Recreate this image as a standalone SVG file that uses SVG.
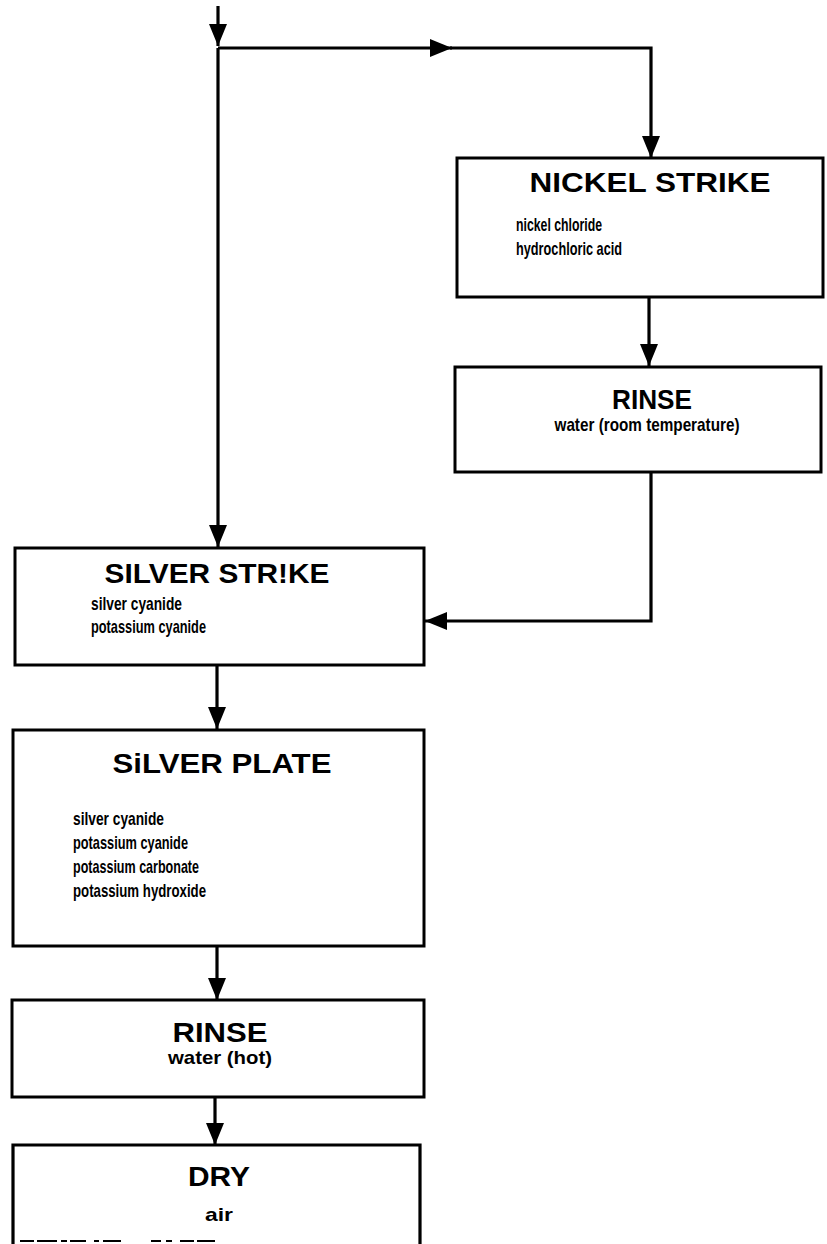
<svg xmlns="http://www.w3.org/2000/svg" width="827" height="1244" viewBox="0 0 827 1244">
<style>
.box{fill:#fff;stroke:#000;stroke-width:3}
.ln{fill:none;stroke:#000;stroke-width:3.2;stroke-linejoin:miter}
.t{font-family:"Liberation Sans",Arial,sans-serif;font-weight:bold;fill:#000}
.h{font-size:28px;text-anchor:middle}
.i{font-size:19px}
.c{font-size:19px;text-anchor:middle}
</style>
<defs>
<marker id="ah" viewBox="0 0 22 18" refX="22" refY="9" markerWidth="22" markerHeight="18" markerUnits="userSpaceOnUse" orient="auto">
<path d="M0,0 L22,9 L0,18 Z" fill="#000"/>
</marker>
</defs>
<rect width="827" height="1244" fill="#fff"/>
<g id="connectors">
<path class="ln" d="M218,6 L218,46" marker-end="url(#ah)"/>
<path class="ln" d="M218,48 L218,547" marker-end="url(#ah)"/>
<path class="ln" d="M218,48 L452,48" marker-end="url(#ah)"/>
<path class="ln" d="M450,48 L651,48 L651,158" marker-end="url(#ah)"/>
<path class="ln" d="M649,297 L649,366" marker-end="url(#ah)"/>
<path class="ln" d="M651,472 L651,621 L425,621" marker-end="url(#ah)"/>
<path class="ln" d="M217,665 L217,729" marker-end="url(#ah)"/>
<path class="ln" d="M217,946 L217,1000" marker-end="url(#ah)"/>
<path class="ln" d="M215,1097 L215,1145" marker-end="url(#ah)"/>
</g>
<g id="nickel-strike">
<rect class="box" x="457" y="158" width="366" height="139"/>
<text class="t h" x="650" y="192" textLength="241" lengthAdjust="spacingAndGlyphs">NICKEL STRIKE</text>
<text class="t i" x="516" y="231" textLength="86" lengthAdjust="spacingAndGlyphs">nickel chloride</text>
<text class="t i" x="516" y="255" textLength="106" lengthAdjust="spacingAndGlyphs">hydrochloric acid</text>
</g>
<g id="rinse-1">
<rect class="box" x="455" y="367" width="366" height="105"/>
<text class="t h" x="652" y="409" font-size="27" textLength="80" lengthAdjust="spacingAndGlyphs">RINSE</text>
<text class="t c" x="647" y="431" textLength="185" lengthAdjust="spacingAndGlyphs">water (room temperature)</text>
</g>
<g id="silver-strike">
<rect class="box" x="15" y="548" width="409" height="117"/>
<text class="t h" x="217" y="583" textLength="225" lengthAdjust="spacingAndGlyphs">SILVER STR!KE</text>
<text class="t i" x="91" y="610" textLength="91" lengthAdjust="spacingAndGlyphs">silver cyanide</text>
<text class="t i" x="91" y="633" textLength="115" lengthAdjust="spacingAndGlyphs">potassium cyanide</text>
</g>
<g id="silver-plate">
<rect class="box" x="13" y="730" width="411" height="216"/>
<text class="t h" x="222" y="773" textLength="219" lengthAdjust="spacingAndGlyphs">SiLVER PLATE</text>
<text class="t i" x="73" y="825" textLength="91" lengthAdjust="spacingAndGlyphs">silver cyanide</text>
<text class="t i" x="73" y="849" textLength="115" lengthAdjust="spacingAndGlyphs">potassium cyanide</text>
<text class="t i" x="73" y="873" textLength="126" lengthAdjust="spacingAndGlyphs">potassium carbonate</text>
<text class="t i" x="73" y="897" textLength="133" lengthAdjust="spacingAndGlyphs">potassium hydroxide</text>
</g>
<g id="rinse-2">
<rect class="box" x="12" y="1000" width="412" height="97"/>
<text class="t h" x="220" y="1042" font-size="30" textLength="95" lengthAdjust="spacingAndGlyphs">RINSE</text>
<text class="t c" x="220" y="1064" textLength="104" lengthAdjust="spacingAndGlyphs">water (hot)</text>
</g>
<g id="dry">
<path class="ln" d="M13,1244 L13,1145 L420,1145 L420,1244" stroke-width="3"/>
<path d="M20,1241 L215,1241" stroke="#000" stroke-width="2" stroke-dasharray="14,3,20,4,6,3,16,8,5,4,18,30,10,5,6,8" fill="none"/>
<text class="t h" x="219" y="1186" font-size="30" textLength="62" lengthAdjust="spacingAndGlyphs">DRY</text>
<text class="t c" x="219" y="1221" textLength="28" lengthAdjust="spacingAndGlyphs">air</text>
</g>
</svg>
